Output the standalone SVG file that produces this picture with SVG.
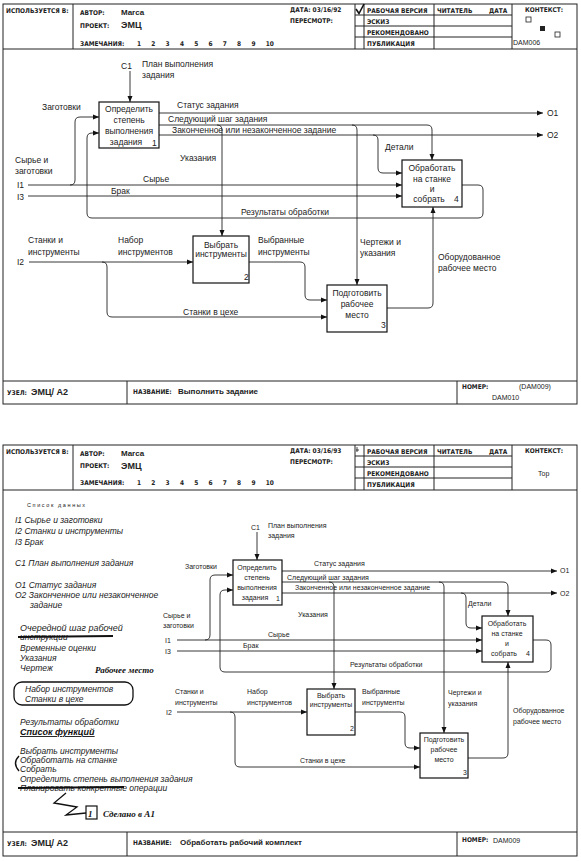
<svg xmlns="http://www.w3.org/2000/svg" width="581" height="861" viewBox="0 0 581 861">
<style>
.fr{fill:none;stroke:#222;stroke-width:1}
.bx{fill:#fff;stroke:#111;stroke-width:1.2}
.c{fill:none;stroke:#222;stroke-width:0.9}
.h{font-family:"DejaVu Sans Condensed","DejaVu Sans",sans-serif;font-size:6.5px;font-weight:bold;fill:#222}
.hv{font-family:"Liberation Sans",Arial,sans-serif;font-size:8px;font-weight:bold;fill:#222}
.l{font-family:"Liberation Sans",Arial,sans-serif;font-size:8.5px;fill:#222}
.s{font-family:"Liberation Sans",Arial,sans-serif;font-size:7px;fill:#222}
.m{text-anchor:middle}
.i{font-family:"Liberation Sans",Arial,sans-serif;font-size:8.5px;font-style:italic;fill:#222}
.w{font-family:"Liberation Serif",serif;font-size:9px;font-style:italic;font-weight:bold;fill:#111}
</style>
<defs>
<marker id="a" markerWidth="6" markerHeight="6" refX="6" refY="3" orient="auto" markerUnits="userSpaceOnUse"><path d="M0,0.5 L6,3 L0,5.5z" fill="#111"/></marker>
</defs>
<rect width="581" height="861" fill="#fff"/>

<!-- ===== TOP PAGE ===== -->
<g id="top-frame">
<rect class="fr" x="3" y="4" width="574" height="400"/>
<line class="fr" x1="3" y1="49" x2="577" y2="49"/>
<line class="fr" x1="73" y1="4" x2="73" y2="49"/>
<line class="fr" x1="355" y1="4" x2="355" y2="49"/>
<line class="fr" x1="364" y1="4" x2="364" y2="49"/>
<line class="fr" x1="434" y1="4" x2="434" y2="49"/>
<line class="fr" x1="512" y1="4" x2="512" y2="49"/>
<line class="fr" x1="355" y1="15" x2="512" y2="15"/>
<line class="fr" x1="355" y1="26" x2="512" y2="26"/>
<line class="fr" x1="355" y1="37" x2="512" y2="37"/>
<path d="M356,9 L359,13.5 L364,4" fill="none" stroke="#111" stroke-width="1.6"/>
<text class="h" x="6" y="13">ИСПОЛЬЗУЕТСЯ В:</text>
<text class="h" x="80" y="15">АВТОР:</text><text class="hv" x="121" y="15">Marca</text>
<text class="h" x="80" y="28">ПРОЕКТ:</text><text class="hv" x="121" y="28" style="font-size:9px">ЭМЦ</text>
<text class="h" x="80" y="46">ЗАМЕЧАНИЯ:</text>
<text class="h" x="137" y="46" style="word-spacing:8.2px">1 2 3 4 5 6 7 8 9 10</text>
<text class="h" x="290" y="12">ДАТА: 03/16/92</text>
<text class="h" x="290" y="23">ПЕРЕСМОТР:</text>
<text class="h" x="367" y="13">РАБОЧАЯ ВЕРСИЯ</text>
<text class="h" x="367" y="24">ЭСКИЗ</text>
<text class="h" x="367" y="35">РЕКОМЕНДОВАНО</text>
<text class="h" x="367" y="46">ПУБЛИКАЦИЯ</text>
<text class="h" x="437" y="13">ЧИТАТЕЛЬ</text><text class="h" x="489" y="13">ДАТА</text>
<text class="h" x="525" y="12">КОНТЕКСТ:</text>
<rect x="526" y="17" width="5" height="5" fill="none" stroke="#222" stroke-width="0.8"/>
<rect x="540" y="26" width="5" height="5" fill="#222"/>
<rect x="555" y="32" width="5" height="5" fill="none" stroke="#222" stroke-width="0.8"/>
<text class="s" x="513" y="45">DAM006</text>
<line class="fr" x1="3" y1="381" x2="577" y2="381"/>
<line class="fr" x1="127" y1="381" x2="127" y2="404"/>
<line class="fr" x1="457" y1="381" x2="457" y2="404"/>
<text class="h" x="7" y="395">УЗЕЛ:</text><text class="hv" x="31" y="395" style="font-size:9px">ЭМЦ/ A2</text>
<text class="h" x="133" y="394">НАЗВАНИЕ:</text><text class="hv" x="178" y="394">Выполнить задание</text>
<text class="h" x="462" y="389">НОМЕР:</text><text class="s" x="519" y="389">(DAM009)</text>
<text class="s" x="492" y="400">DAM010</text>
</g>

<g id="top-connectors">
<path class="c" marker-end="url(#a)" d="M130,71 V102"/>
<path class="c" marker-end="url(#a)" d="M28,185 H402"/>
<path class="c" marker-end="url(#a)" d="M70,185 Q75,185 75,180 V122 Q75,117 80,117 H99"/>
<path class="c" marker-end="url(#a)" d="M28,196 H402"/>
<path class="c" marker-end="url(#a)" d="M462,185 H478 Q483,185 483,190 V213 Q483,218 478,218 H92 Q87,218 87,213 V138 Q87,133 92,133 H99"/>
<path class="c" marker-end="url(#a)" d="M159,113 H543"/>
<path class="c" marker-end="url(#a)" d="M159,125 H427 Q432,125 432,130 V160"/>
<path class="c" marker-end="url(#a)" d="M217,125 Q222,125 222,130 V236"/>
<path class="c" marker-end="url(#a)" d="M352,125 Q357,125 357,130 V285"/>
<path class="c" marker-end="url(#a)" d="M159,135 H543"/>
<path class="c" marker-end="url(#a)" d="M373,135 Q378,135 378,140 V168 Q378,173 383,173 H402"/>
<path class="c" marker-end="url(#a)" d="M29,262 H193"/>
<path class="c" marker-end="url(#a)" d="M102,262 Q107,262 107,267 V312 Q107,317 112,317 H327"/>
<path class="c" marker-end="url(#a)" d="M249,262 H300 Q305,262 305,267 V295 Q305,300 310,300 H327"/>
<path class="c" marker-end="url(#a)" d="M387,308 H428 Q433,308 433,303 V207"/>
</g>

<g id="top-labels">
<text class="l" x="121" y="69">C1</text>
<text class="l" x="142" y="67">План выполнения</text><text class="l" x="142" y="78">задания</text>
<text class="l" x="42" y="110">Заготовки</text>
<text class="l" x="15" y="163">Сырье и</text><text class="l" x="15" y="174">заготовки</text>
<text class="l" x="17" y="188">I1</text><text class="l" x="17" y="200">I3</text>
<text class="l" x="143" y="182">Сырье</text>
<text class="l" x="111" y="194">Брак</text>
<text class="l" x="180" y="161">Указания</text>
<text class="l" x="177" y="108">Статус задания</text>
<text class="l" x="168" y="122">Следующий шаг задания</text>
<text class="l" x="172" y="133">Законченное или незаконченное задание</text>
<text class="l" x="385" y="150">Детали</text>
<text class="l" x="547" y="116">O1</text><text class="l" x="547" y="138">O2</text>
<text class="l" x="241" y="215">Результаты обработки</text>
<text class="l" x="28" y="243">Станки и</text><text class="l" x="28" y="255">инструменты</text>
<text class="l" x="17" y="265">I2</text>
<text class="l" x="118" y="243">Набор</text><text class="l" x="118" y="255">инструментов</text>
<text class="l" x="258" y="243">Выбранные</text><text class="l" x="258" y="255">инструменты</text>
<text class="l" x="183" y="315">Станки в цехе</text>
<text class="l" x="360" y="245">Чертежи и</text><text class="l" x="360" y="256">указания</text>
<text class="l" x="438" y="260">Оборудованное</text><text class="l" x="438" y="271">рабочее место</text>
</g>

<g id="top-box1">
<rect class="bx" x="99" y="102" width="60" height="46"/>
<text class="l m" x="129" y="112">Определить</text>
<text class="l m" x="129" y="123">степень</text>
<text class="l m" x="129" y="134">выполнения</text>
<text class="l m" x="126" y="145">задания</text>
<text class="l" x="152" y="146">1</text>
</g>
<g id="top-box2">
<rect class="bx" x="193" y="236" width="56" height="47"/>
<text class="l m" x="221" y="248">Выбрать</text>
<text class="l m" x="221" y="257">инструменты</text>
<text class="l" x="244" y="280">2</text>
</g>
<g id="top-box3">
<rect class="bx" x="327" y="285" width="60" height="47"/>
<text class="l m" x="357" y="296">Подготовить</text>
<text class="l m" x="357" y="307">рабочее</text>
<text class="l m" x="357" y="318">место</text>
<text class="l" x="381" y="328">3</text>
</g>
<g id="top-box4">
<rect class="bx" x="402" y="160" width="60" height="47"/>
<text class="l m" x="432" y="171">Обработать</text>
<text class="l m" x="432" y="182">на станке</text>
<text class="l m" x="432" y="192">и</text>
<text class="l m" x="429" y="202">собрать</text>
<text class="l" x="454" y="202">4</text>
</g>

<!-- ===== BOTTOM PAGE ===== -->
<g id="bottom-frame">
<rect class="fr" x="3" y="445" width="574" height="411"/>
<line class="fr" x1="3" y1="490" x2="577" y2="490"/>
<line class="fr" x1="73" y1="445" x2="73" y2="490"/>
<line class="fr" x1="355" y1="445" x2="355" y2="490"/>
<line class="fr" x1="364" y1="445" x2="364" y2="490"/>
<line class="fr" x1="434" y1="445" x2="434" y2="490"/>
<line class="fr" x1="512" y1="445" x2="512" y2="490"/>
<line class="fr" x1="355" y1="456" x2="512" y2="456"/>
<line class="fr" x1="355" y1="467" x2="512" y2="467"/>
<line class="fr" x1="355" y1="478" x2="512" y2="478"/>
<path d="M357,447 V452 M356,450 H359" fill="none" stroke="#111" stroke-width="0.8"/>
<text class="h" x="6" y="454">ИСПОЛЬЗУЕТСЯ В:</text>
<text class="h" x="80" y="456">АВТОР:</text><text class="hv" x="121" y="456">Marca</text>
<text class="h" x="80" y="468">ПРОЕКТ:</text><text class="hv" x="121" y="469" style="font-size:9px">ЭМЦ</text>
<text class="h" x="80" y="485">ЗАМЕЧАНИЯ:</text>
<text class="h" x="137" y="485" style="word-spacing:8.2px">1 2 3 4 5 6 7 8 9 10</text>
<text class="h" x="290" y="453">ДАТА: 03/16/93</text>
<text class="h" x="290" y="464">ПЕРЕСМОТР:</text>
<text class="h" x="367" y="454">РАБОЧАЯ ВЕРСИЯ</text>
<text class="h" x="367" y="465">ЭСКИЗ</text>
<text class="h" x="367" y="476">РЕКОМЕНДОВАНО</text>
<text class="h" x="367" y="487">ПУБЛИКАЦИЯ</text>
<text class="h" x="437" y="454">ЧИТАТЕЛЬ</text><text class="h" x="489" y="454">ДАТА</text>
<text class="h" x="525" y="453">КОНТЕКСТ:</text>
<text class="s" x="538" y="476">Top</text>
<line class="fr" x1="3" y1="832" x2="577" y2="832"/>
<line class="fr" x1="127" y1="832" x2="127" y2="856"/>
<line class="fr" x1="457" y1="832" x2="457" y2="856"/>
<text class="h" x="7" y="846">УЗЕЛ:</text><text class="hv" x="31" y="846" style="font-size:9px">ЭМЦ/ A2</text>
<text class="h" x="133" y="845">НАЗВАНИЕ:</text><text class="hv" x="180" y="845">Обработать рабочий комплект</text>
<text class="h" x="462" y="842">НОМЕР:</text><text class="s" x="493" y="843">DAM009</text>
</g>

<g id="bottom-notes">
<text x="27" y="507" style="font-family:'Liberation Sans',sans-serif;font-size:5.5px;letter-spacing:1.6px;fill:#222">Список данных</text>
<text class="i" x="15" y="523">I1 Сырье и заготовки</text>
<text class="i" x="15" y="534">I2 Станки и инструменты</text>
<text class="i" x="15" y="545">I3 Брак</text>
<text class="i" x="15" y="566">C1 План выполнения задания</text>
<text class="i" x="15" y="588">O1 Статус задания</text>
<text class="i" x="15" y="598">O2 Законченное или незаконченное</text>
<text class="i" x="30" y="608">задание</text>
<text class="i" x="20" y="631" style="font-size:9px">Очередной шаг рабочей</text>
<text class="i" x="20" y="640">инструкции</text>
<line x1="18" y1="637" x2="113" y2="636" stroke="#111" stroke-width="1.8"/>
<text class="i" x="20" y="651">Временные оценки</text>
<text class="i" x="20" y="661">Указания</text>
<text class="i" x="20" y="671">Чертеж</text>
<text class="w" x="95" y="673">Рабочее место</text>
<rect x="14" y="682" width="119" height="23" rx="8" fill="none" stroke="#111" stroke-width="1.3"/>
<text class="i" x="25" y="692">Набор инструментов</text>
<text class="i" x="25" y="702">Станки в цехе</text>
<text class="i" x="20" y="725">Результаты обработки</text>
<text x="20" y="735" style="font-family:'Liberation Sans',sans-serif;font-size:9px;font-style:italic;font-weight:bold;text-decoration:underline;fill:#111">Список функций</text>
<text class="i" x="20" y="754">Выбрать инструменты</text>
<text class="i" x="20" y="763">Обработать на станке</text>
<text class="i" x="20" y="772">Собрать</text>
<path d="M19,756 Q12,763 19,771" fill="none" stroke="#111" stroke-width="1.4"/>
<text class="i" x="20" y="782">Определить степень выполнения задания</text>
<text class="i" x="20" y="791">Планировать конкретные операции</text>
<line x1="18" y1="788" x2="124" y2="787" stroke="#111" stroke-width="1.8"/>
<path d="M66,793 L54,803 L77,807 L66,815 L86,813" fill="none" stroke="#111" stroke-width="1.3"/>
<rect x="86" y="806" width="11" height="13" fill="none" stroke="#111" stroke-width="1.2"/>
<text class="w" x="88" y="817">1</text>
<text class="w" x="103" y="817">Сделано в A1</text>
</g>

<g id="bottom-connectors">
<path class="c" marker-end="url(#a)" d="M257,532 V560"/>
<path class="c" marker-end="url(#a)" d="M177,640 H482"/>
<path class="c" marker-end="url(#a)" d="M205,640 Q210,640 210,635 V580 Q210,575 215,575 H233"/>
<path class="c" marker-end="url(#a)" d="M177,651 H482"/>
<path class="c" marker-end="url(#a)" d="M533,640 H546 Q551,640 551,645 V667 Q551,672 546,672 H225 Q220,672 220,667 V595 Q220,590 225,590 H233"/>
<path class="c" marker-end="url(#a)" d="M282,571 H557"/>
<path class="c" marker-end="url(#a)" d="M282,582 H503 Q508,582 508,587 V616"/>
<path class="c" marker-end="url(#a)" d="M329,582 Q334,582 334,587 V689"/>
<path class="c" marker-end="url(#a)" d="M439,582 Q444,582 444,587 V733"/>
<path class="c" marker-end="url(#a)" d="M282,593 H557"/>
<path class="c" marker-end="url(#a)" d="M461,593 Q466,593 466,598 V623 Q466,628 471,628 H482"/>
<path class="c" marker-end="url(#a)" d="M177,712 H307"/>
<path class="c" marker-end="url(#a)" d="M230,712 Q235,712 235,717 V762 Q235,767 240,767 H420"/>
<path class="c" marker-end="url(#a)" d="M355,712 H400 Q405,712 405,717 V743 Q405,748 410,748 H420"/>
<path class="c" marker-end="url(#a)" d="M468,758 H503 Q508,758 508,753 V662"/>
</g>

<g id="bottom-labels">
<text class="s" x="251" y="530">C1</text>
<text class="s" x="268" y="528">План выполнения</text><text class="s" x="268" y="538">задания</text>
<text class="s" x="185" y="569">Заготовки</text>
<text class="s" x="163" y="618">Сырье и</text><text class="s" x="163" y="628">заготовки</text>
<text class="s" x="165" y="643">I1</text><text class="s" x="165" y="654">I3</text>
<text class="s" x="268" y="637">Сырье</text>
<text class="s" x="243" y="648">Брак</text>
<text class="s" x="350" y="667">Результаты обработки</text>
<text class="s" x="298" y="617">Указания</text>
<text class="s" x="314" y="566">Статус задания</text>
<text class="s" x="287" y="580">Следующий шаг задания</text>
<text class="s" x="295" y="590">Законченное или незаконченное задание</text>
<text class="s" x="468" y="606">Детали</text>
<text class="s" x="560" y="573">O1</text><text class="s" x="560" y="596">O2</text>
<text class="s" x="175" y="694">Станки и</text><text class="s" x="175" y="705">инструменты</text>
<text class="s" x="166" y="715">I2</text>
<text class="s" x="247" y="694">Набор</text><text class="s" x="247" y="705">инструментов</text>
<text class="s" x="362" y="694">Выбранные</text><text class="s" x="362" y="705">инструменты</text>
<text class="s" x="300" y="763">Станки в цехе</text>
<text class="s" x="448" y="695">Чертежи и</text><text class="s" x="448" y="706">указания</text>
<text class="s" x="513" y="713">Оборудованное</text><text class="s" x="513" y="724">рабочее место</text>
</g>

<g id="bottom-box1">
<rect class="bx" x="233" y="560" width="49" height="45"/>
<text class="s m" x="257" y="570">Определить</text>
<text class="s m" x="257" y="580">степень</text>
<text class="s m" x="257" y="590">выполнения</text>
<text class="s m" x="255" y="600">задания</text>
<text class="s" x="276" y="601">1</text>
</g>
<g id="bottom-box2">
<rect class="bx" x="307" y="689" width="48" height="46"/>
<text class="s m" x="331" y="698">Выбрать</text>
<text class="s m" x="331" y="707">инструменты</text>
<text class="s" x="350" y="731">2</text>
</g>
<g id="bottom-box3">
<rect class="bx" x="420" y="733" width="48" height="45"/>
<text class="s m" x="444" y="742">Подготовить</text>
<text class="s m" x="444" y="752">рабочее</text>
<text class="s m" x="444" y="762">место</text>
<text class="s" x="463" y="775">3</text>
</g>
<g id="bottom-box4">
<rect class="bx" x="482" y="616" width="51" height="46"/>
<text class="s m" x="507" y="626">Обработать</text>
<text class="s m" x="507" y="636">на станке</text>
<text class="s m" x="507" y="646">и</text>
<text class="s m" x="504" y="656">собрать</text>
<text class="s" x="526" y="656">4</text>
</g>
</svg>
